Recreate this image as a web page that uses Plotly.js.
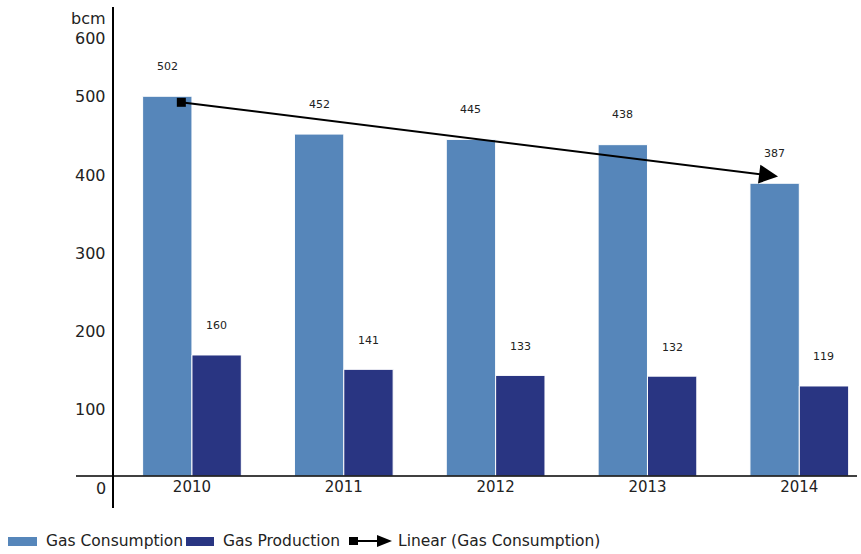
<!DOCTYPE html>
<html>
<head>
<meta charset="utf-8">
<script src="https://cdn.plot.ly/plotly-3.0.1.min.js"></script>
<style>html,body{margin:0;padding:0;background:#fff;}#chart{width:861px;height:554px;}</style>
</head>
<body>
<div id="chart"></div>
<script>
// ---- data ----
var years = ['2010', '2011', '2012', '2013', '2014'];
var gasConsumption = [502, 452, 445, 438, 387];
var gasProduction = [160, 141, 133, 132, 119];
var trendValues = [494, 396];          // Linear (Gas Consumption) start / end
var yTickValues = [0, 100, 200, 300, 400, 500, 600];
var yUnit = 'bcm';
var seriesNames = ['Gas Consumption', 'Gas Production', 'Linear (Gas Consumption)'];

// ---- layout helpers (pixel -> paper) ----
var W = 861, H = 554, ML = 113, MR = 4, MT = 7, MB = 78;
var PW = W - ML - MR, PH = H - MT - MB;
function px(x) { return (x - ML) / PW; }
function py(y) { return (H - MB - y) / PH; }

var cConsumption = '#5686BA';
var cProduction = '#293582';
var txt = '#222222';
var FONT = 'DejaVu Sans, Verdana, sans-serif';

var idx = years.map(function (_, i) { return i; });
var barOff = 0.1625;

var traces = [
  { type: 'bar', x: idx, y: gasConsumption, name: seriesNames[0],
    marker: { color: cConsumption, line: { color: '#ffffff', width: 1 } } },
  { type: 'bar', x: idx, y: gasProduction, name: seriesNames[1],
    marker: { color: cProduction, line: { color: '#ffffff', width: 1 } } },
  { type: 'scatter', mode: 'markers', x: [-0.07], y: [trendValues[0]], name: seriesNames[2],
    marker: { symbol: 'square', size: 9, color: '#000' } }
];

var annotations = [];
// value labels
gasConsumption.forEach(function (v, i) {
  annotations.push({ x: i - barOff, y: v, xref: 'x', yref: 'y', text: String(v), showarrow: false,
    yshift: 30, font: { family: FONT, size: 11, color: txt } });
});
gasProduction.forEach(function (v, i) {
  annotations.push({ x: i + barOff, y: v, xref: 'x', yref: 'y', text: String(v), showarrow: false,
    yshift: 29, font: { family: FONT, size: 11, color: txt } });
});
// trend arrow
annotations.push({ x: 3.86, y: trendValues[1], ax: -0.07, ay: trendValues[0], axref: 'x', ayref: 'y',
  xref: 'x', yref: 'y', text: '', showarrow: true, arrowhead: 2, arrowsize: 1.9, arrowwidth: 2, arrowcolor: '#000' });
// y tick labels (reference places them slightly below their gridline positions)
yTickValues.forEach(function (v) {
  var yp = Math.max(38, 488 - 0.782 * v);
  annotations.push({ x: px(108), y: py(yp), xref: 'paper', yref: 'paper', xanchor: 'right', yanchor: 'middle',
    text: String(v), showarrow: false, font: { family: FONT, size: 16, color: txt } });
});
// unit label
annotations.push({ x: px(108), y: py(18), xref: 'paper', yref: 'paper', xanchor: 'right', yanchor: 'middle',
  text: yUnit, showarrow: false, font: { family: FONT, size: 16, color: txt } });
// legend texts
var legY = py(541);
[[44, seriesNames[0]], [221, seriesNames[1]], [396, seriesNames[2]]].forEach(function (p) {
  annotations.push({ x: px(p[0]), y: legY, xref: 'paper', yref: 'paper', xanchor: 'left', yanchor: 'middle',
    text: p[1], showarrow: false, font: { family: FONT, size: 15.5, color: txt } });
});

var shapes = [
  // y axis line (extends below x axis)
  { type: 'line', xref: 'paper', yref: 'paper', x0: 0, x1: 0, y0: py(508), y1: 1, line: { color: '#000', width: 2 } },
  // x axis line (extends left of y axis)
  { type: 'line', xref: 'paper', yref: 'paper', x0: px(76), x1: 1, y0: 0, y1: 0, line: { color: '#000', width: 1.5 } },
  // legend swatches
  { type: 'rect', xref: 'paper', yref: 'paper', x0: px(8), x1: px(37), y0: py(546), y1: py(537), fillcolor: cConsumption, line: { width: 0 } },
  { type: 'rect', xref: 'paper', yref: 'paper', x0: px(186), x1: px(214), y0: py(546), y1: py(537), fillcolor: cProduction, line: { width: 0 } },
  { type: 'rect', xref: 'paper', yref: 'paper', x0: px(349), x1: px(358), y0: py(545), y1: py(537), fillcolor: '#000', line: { width: 0 } },
  { type: 'line', xref: 'paper', yref: 'paper', x0: px(358), x1: px(380), y0: legY, y1: legY, line: { color: '#000', width: 2 } },
  { type: 'path', xref: 'paper', yref: 'paper',
    path: 'M ' + px(377) + ' ' + py(535) + ' L ' + px(392) + ' ' + legY + ' L ' + px(377) + ' ' + py(547) + ' Z',
    fillcolor: '#000', line: { width: 0 } }
];

var layout = {
  width: W, height: H,
  margin: { l: ML, r: MR, t: MT, b: MB, pad: 0 },
  paper_bgcolor: '#fff', plot_bgcolor: '#fff',
  font: { family: FONT, color: txt },
  showlegend: false,
  hovermode: false,
  barmode: 'group', bargap: 0.35, bargroupgap: 0,
  xaxis: { type: 'linear', range: [-0.52, 4.38], tickvals: idx, ticktext: years, ticks: '',
    showgrid: false, zeroline: false, showline: false, tickfont: { family: FONT, size: 15, color: txt } },
  yaxis: { range: [0, 620], tickvals: yTickValues, showticklabels: false, ticks: '',
    showgrid: false, zeroline: false, showline: false },
  annotations: annotations,
  shapes: shapes
};

Plotly.newPlot('chart', traces, layout, { displayModeBar: false, staticPlot: true });
</script>
</body>
</html>
